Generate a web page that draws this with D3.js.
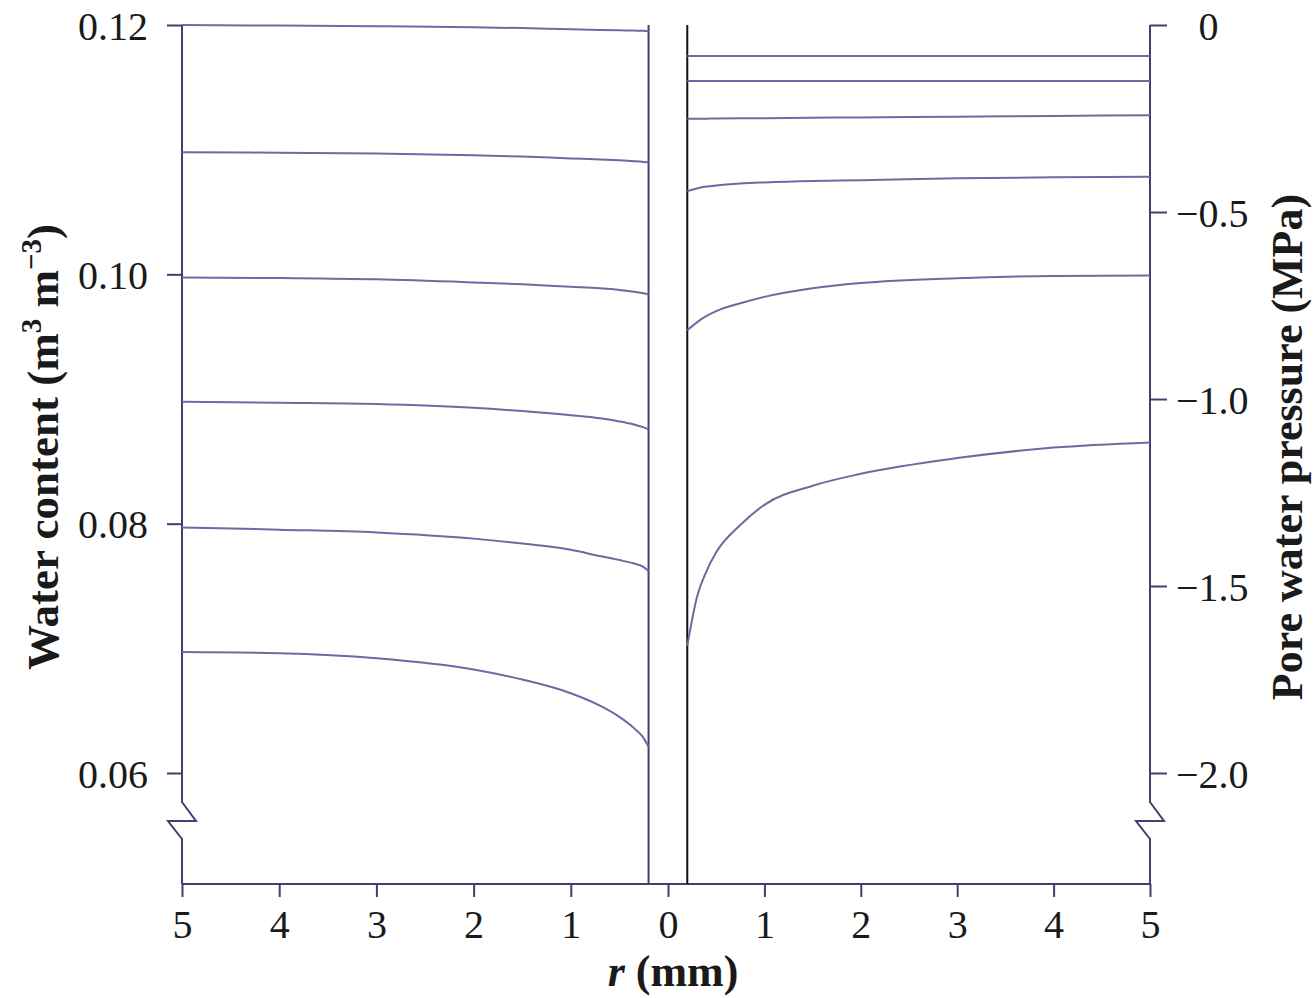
<!DOCTYPE html>
<html>
<head>
<meta charset="utf-8">
<script src="https://cdn.jsdelivr.net/npm/d3@7"></script>
<style>
    body { margin: 0; background: #fff; }
    text { font-family: "Liberation Serif", "DejaVu Serif", serif; fill: #1a1a1a; }
    .curve { fill: none; stroke: #7b62a3; stroke-width: 2; }
    .axisline { fill: none; stroke: #4b3a6e; stroke-width: 2; }
</style>
</head>
<body>
<div id="chart"></div>
<script>
// distance from the root surface (mm), left panel runs 5 -> 0.2, right panel 0.2 -> 5
const rLeft = [5, 4, 3, 2, 1.5, 1, 0.7, 0.5, 0.35, 0.25, 0.2];
const rRight = [0.2, 0.3, 0.4, 0.5, 0.75, 1, 1.5, 2, 3, 4, 5];

// water content profiles (m3 m-3)
const theta1 = [0.1200, 0.11995, 0.1199, 0.11982, 0.11975, 0.11965, 0.1196, 0.11957, 0.11955, 0.11953, 0.1195];
const theta2 = [0.1098, 0.10975, 0.1097, 0.10955, 0.10945, 0.1093, 0.10922, 0.10915, 0.10908, 0.10902, 0.10898];
const theta3 = [0.09975, 0.0997, 0.0996, 0.09935, 0.0992, 0.0990, 0.09888, 0.09875, 0.0986, 0.09848, 0.0984];
const theta4 = [0.08977, 0.0897, 0.0896, 0.0893, 0.08903, 0.0887, 0.08845, 0.0882, 0.08795, 0.08772, 0.08756];
const theta5 = [0.0797, 0.07952, 0.0793, 0.0788, 0.0784, 0.0779, 0.0774, 0.07708, 0.0768, 0.07652, 0.0762];
const theta6 = [0.0697, 0.0696, 0.0692, 0.0683, 0.0675, 0.0664, 0.0654, 0.0645, 0.0636, 0.0628, 0.0621];

// pore water pressure profiles (MPa)
const psi1 = [-0.083, -0.083, -0.083, -0.083, -0.083, -0.083, -0.083, -0.083, -0.083, -0.083, -0.083];
const psi2 = [-0.150, -0.150, -0.150, -0.150, -0.150, -0.150, -0.150, -0.150, -0.150, -0.150, -0.150];
const psi3 = [-0.251, -0.251, -0.2505, -0.250, -0.2495, -0.249, -0.248, -0.247, -0.245, -0.243, -0.241];
const psi4 = [-0.444, -0.437, -0.432, -0.429, -0.424, -0.421, -0.417, -0.415, -0.410, -0.407, -0.406];
const psi5 = [-0.816, -0.795, -0.778, -0.765, -0.744, -0.727, -0.704, -0.690, -0.677, -0.671, -0.670];
const psi6 = [-1.66, -1.53, -1.46, -1.41, -1.337, -1.283, -1.232, -1.200, -1.158, -1.130, -1.116];

const xTicksLeft = [5, 4, 3, 2, 1, 0];
const xTicksRight = [1, 2, 3, 4, 5];
const yTicksLeft = [0.06, 0.08, 0.10, 0.12];
const yTicksRight = [0, -0.5, -1.0, -1.5, -2.0];

function init(){
    const width = 1313, height = 998;
    const left = 182, right = 1150, mid = 668;
    const top = 25, yLow = 773, bottom = 884;

    const svg = d3.select("#chart")
                  .append("svg")
                  .attr("width", width)
                  .attr("height", height);

    // scales
    const xL = d3.scaleLinear().domain([5, 0]).range([left, mid]);
    const xR = d3.scaleLinear().domain([0, 5]).range([mid, right]);
    const yL = d3.scaleLinear().domain([0.06, 0.12]).range([yLow, top]);
    const yR = d3.scaleLinear().domain([-2, 0]).range([yLow, top]);

    // left axis
    const gl = svg.append("g")
       .attr("transform", `translate(${left},0)`)
       .call(d3.axisLeft(yL).tickValues(yTicksLeft).tickSize(15).tickPadding(19).tickFormat(d3.format(".2f")));
    gl.select(".domain").remove();

    // right axis
    const gr = svg.append("g")
       .attr("transform", `translate(${right},0)`)
       .call(d3.axisRight(yR).tickValues(yTicksRight).tickSize(17).tickPadding(9)
             .tickFormat(d => d === 0 ? "0" : d3.format(".1f")(d)));
    gr.select(".domain").remove();

    // bottom axis (two halves sharing the 0 tick)
    const gb1 = svg.append("g")
       .attr("transform", `translate(0,${bottom})`)
       .call(d3.axisBottom(xL).tickValues(xTicksLeft).tickSize(13).tickPadding(12).tickFormat(d3.format("d")));
    const gb2 = svg.append("g")
       .attr("transform", `translate(0,${bottom})`)
       .call(d3.axisBottom(xR).tickValues(xTicksRight).tickSize(13).tickPadding(12).tickFormat(d3.format("d")));
    gb1.select(".domain").remove();
    gb2.select(".domain").remove();

    [gl, gr, gb1, gb2].forEach(g => {
        g.selectAll("line").attr("stroke", "#4b3a6e").attr("stroke-width", 2);
        g.selectAll("text")
         .style("font-size", "40px")
         .attr("fill", "#1a1a1a");
    });
    gl.selectAll("text").attr("dy", "14px");
    gr.selectAll("text").attr("dy", "14px");
    gb1.selectAll("text").attr("dy", "29px");
    gb2.selectAll("text").attr("dy", "29px");

    // align the "0" with the digit of "−0.5"
    const probe = svg.append("text").style("font-size", "40px").text("\u2212");
    const minusW = probe.node().getComputedTextLength();
    probe.remove();
    gr.selectAll(".tick text").filter(d => d === 0).attr("x", 26 + minusW);

    // axis lines with breaks near the bottom
    const brk = (x) => [[x, top], [x, yLow + 29], [x + 14, yLow + 48], [x - 14, yLow + 48], [x, yLow + 66], [x, bottom]];
    const axisLine = d3.line();
    svg.append("path").attr("class", "axisline").attr("d", axisLine(brk(left)));
    svg.append("path").attr("class", "axisline").attr("d", axisLine(brk(right)));
    svg.append("line").attr("class", "axisline")
       .attr("x1", left).attr("x2", right).attr("y1", bottom).attr("y2", bottom);

    // root surface boundaries at r = 0.2 mm
    svg.append("line")
       .attr("x1", xL(0.2)).attr("x2", xL(0.2)).attr("y1", top).attr("y2", bottom)
       .attr("stroke", "#4b3a6e").attr("stroke-width", 2);
    svg.append("line")
       .attr("x1", xR(0.2)).attr("x2", xR(0.2)).attr("y1", top).attr("y2", bottom)
       .attr("stroke", "#111").attr("stroke-width", 2);

    // curves
    const lineL = d3.line()
                    .x((d, i) => xL(rLeft[i]))
                    .y(d => yL(d))
                    .curve(d3.curveMonotoneX);
    const lineR = d3.line()
                    .x((d, i) => xR(rRight[i]))
                    .y(d => yR(d))
                    .curve(d3.curveMonotoneX);

    [theta1, theta2, theta3, theta4, theta5, theta6].forEach(s => {
        svg.append("path").datum(s).attr("class", "curve").attr("d", lineL);
    });
    [psi1, psi2, psi3, psi4, psi5, psi6].forEach(s => {
        svg.append("path").datum(s).attr("class", "curve").attr("d", lineR);
    });

    // axis titles
    const tl = svg.append("text")
       .attr("transform", "translate(58,447) rotate(-90)")
       .attr("text-anchor", "middle")
       .style("font-size", "45px")
       .style("font-weight", "bold");
    tl.append("tspan").text("Water content (m");
    tl.append("tspan").attr("dy", "-17").style("font-size", "29px").text("3");
    tl.append("tspan").attr("dy", "17").text(" m");
    tl.append("tspan").attr("dy", "-17").style("font-size", "29px").text("\u22123");
    tl.append("tspan").attr("dy", "17").text(")");

    svg.append("text")
       .attr("transform", "translate(1302,447) rotate(-90)")
       .attr("text-anchor", "middle")
       .style("font-size", "44px")
       .style("font-weight", "bold")
       .text("Pore water pressure (MPa)");

    const tb = svg.append("text")
       .attr("x", 673)
       .attr("y", 986)
       .attr("text-anchor", "middle")
       .style("font-size", "44px")
       .style("font-weight", "bold");
    tb.append("tspan").style("font-style", "italic").text("r");
    tb.append("tspan").text(" (mm)");
}
window.onload = init;
</script>
</body>
</html>
